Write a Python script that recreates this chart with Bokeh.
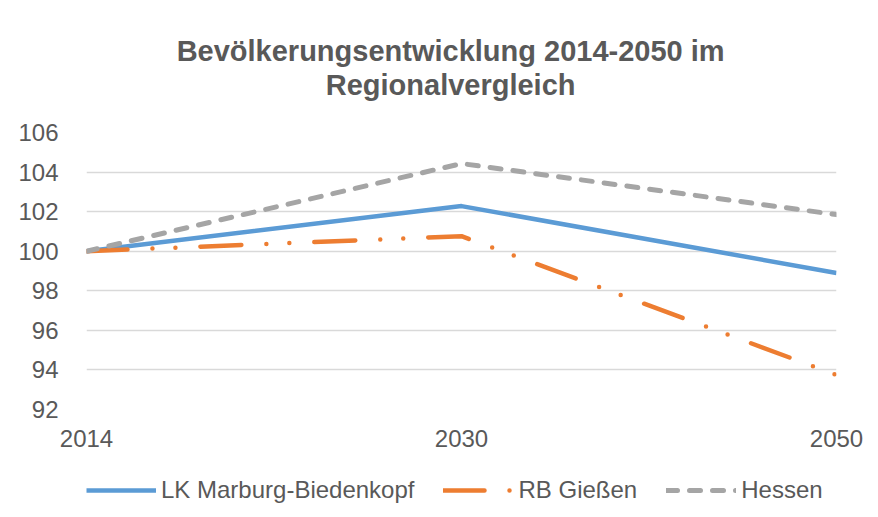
from bokeh.plotting import figure
from bokeh.layouts import column
from bokeh.models import Range1d, FixedTicker, Legend, LegendItem, Label
from bokeh.embed import file_html
from bokeh.resources import INLINE

years = ["2014", "2030", "2050"]
x_pos = [0, 1, 2]
marburg = [100.0, 102.28, 98.9]
giessen = [100.0, 100.76, 93.75]
hessen = [100.0, 104.43, 101.85]
y_ticks = [92, 94, 96, 98, 100, 102, 104, 106]
title_lines = ["Bevölkerungsentwicklung 2014-2050 im", "Regionalvergleich"]
series_names = ["LK Marburg-Biedenkopf", "RB Gießen", "Hessen"]

FONT = "Liberation Sans"
TXT = "#595959"
styles = [dict(line_color="#5B9BD5", line_width=4.5, line_join="round"),
          dict(line_color="#ED7D31", line_width=4.5, line_cap="round",
               line_join="round", line_dash="41 25 0 23 0 25"),
          dict(line_color="#A5A5A5", line_width=5, line_cap="round",
               line_join="round", line_dash="11 12")]

def strip(height):
    f = figure(width=878, height=height, output_backend="svg", toolbar_location=None,
               x_range=Range1d(0, 2), y_range=Range1d(0, height), title=None,
               x_axis_location=None, y_axis_location=None,
               min_border_left=86, min_border_right=42, min_border_top=0,
               min_border_bottom=0)
    f.outline_line_color = None
    f.xgrid.visible = False
    f.ygrid.visible = False
    f.border_fill_color = "white"
    return f

# title strip
p0 = strip(112)
for txt, ypos in zip(title_lines, [61.5, 27.5]):
    p0.add_layout(Label(x=0.971, y=ypos, text=txt, text_align="center",
                        text_baseline="alphabetic", text_font=FONT,
                        text_font_size="29px", text_font_style="bold",
                        text_color=TXT))

# main chart
p = figure(width=878, height=348, output_backend="svg", toolbar_location=None,
           x_range=Range1d(0, 2), y_range=Range1d(92, 106), title=None,
           min_border_left=86, min_border_right=42, min_border_top=20,
           min_border_bottom=51)
p.outline_line_color = None
p.background_fill_color = "white"
p.border_fill_color = "white"

p.xaxis.ticker = FixedTicker(ticks=x_pos)
p.xaxis.major_label_overrides = {i: y for i, y in zip(x_pos, years)}
p.yaxis.ticker = FixedTicker(ticks=y_ticks)
for ax in (p.xaxis, p.yaxis):
    ax.axis_line_color = None
    ax.major_tick_line_color = None
    ax.minor_tick_line_color = None
    ax.major_label_text_font = FONT
    ax.major_label_text_font_size = "24px"
    ax.major_label_text_color = TXT
p.xaxis.major_label_standoff = 14
p.yaxis.major_label_standoff = 22

p.xgrid.grid_line_color = None
p.ygrid.grid_line_color = "#d9d9d9"
p.ygrid.grid_line_width = 1.5

for vals, st in zip([marburg, giessen, hessen], styles):
    p.line(x_pos, vals, **st)

# legend strip below the chart (the series lie outside its ranges)
p2 = strip(57)
items = []
for name, vals, st in zip(series_names, [marburg, giessen, hessen], styles):
    r = p2.line(x_pos, vals, **st)
    items.append(LegendItem(label=name, renderers=[r]))
legend = Legend(items=items, orientation="horizontal", location=(0, 13),
                glyph_width=70, glyph_height=20, label_standoff=5, spacing=29,
                padding=0, margin=0, border_line_color=None,
                background_fill_alpha=0,
                label_text_font=FONT, label_text_font_size="24px",
                label_text_color=TXT)
p2.add_layout(legend, "center")

open("out.html", "w").write(file_html(column(p0, p, p2, spacing=0), INLINE))
